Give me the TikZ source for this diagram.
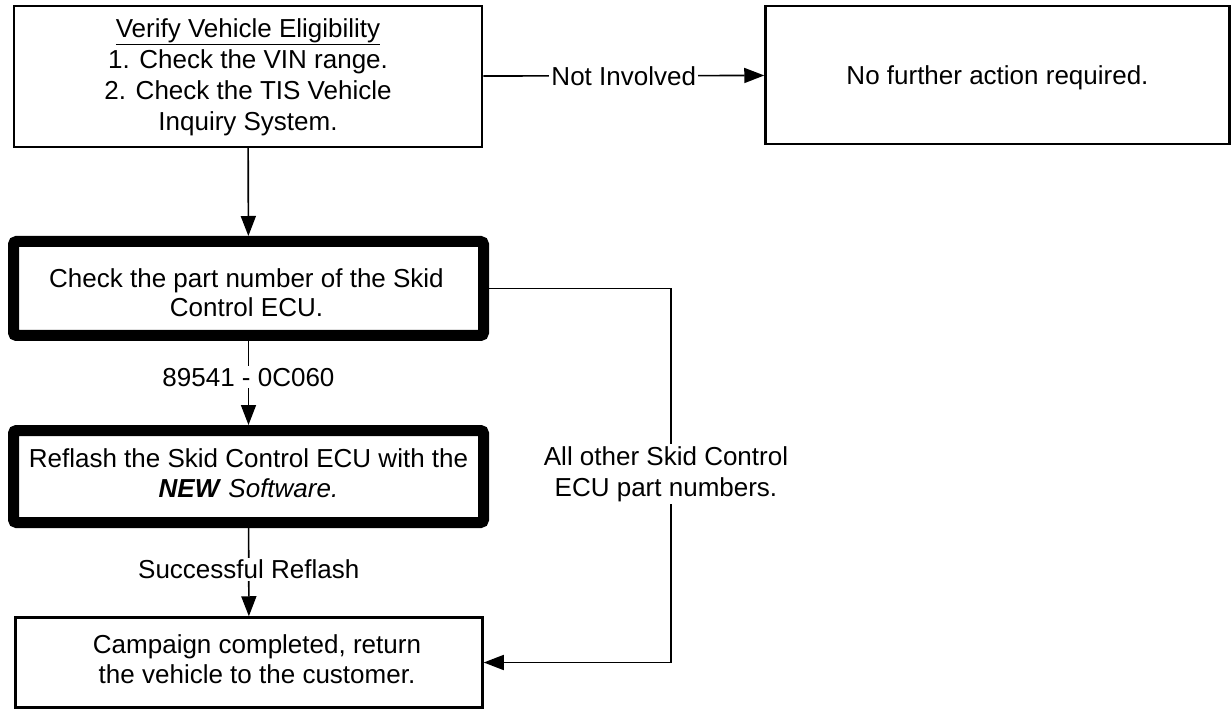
\documentclass[tikz,border=0pt]{standalone}
\usepackage{fontspec}
\setmainfont{Liberation Sans}
\usetikzlibrary{arrows.meta,calc}
\begin{document}
\begin{tikzpicture}[x=1pt,y=-1pt,
  every node/.style={font=\fontsize{26}{31}\selectfont},
  tbox/.style={draw, line width=2.5pt, inner sep=0pt},
  hbox/.style={draw, line width=11pt, rounded corners=3pt, inner sep=0pt},
  txt/.style={align=center, inner sep=0pt},
  arr/.style={line width=1.6pt, -{Triangle[length=20pt,width=15pt]}},
  lbl/.style={fill=white, inner sep=2pt, align=center}]
\useasboundingbox (0,0) rectangle (1232,711);
% boxes
\node[tbox, minimum width=468pt, minimum height=141pt] (b1) at (248,76.5) {};
\node[tbox, minimum width=464pt, minimum height=138pt] (b2) at (997.5,75) {};
\node[hbox, minimum width=470pt, minimum height=94pt] (b3) at (248.5,288.5) {};
\node[hbox, minimum width=470pt, minimum height=92pt] (b4) at (248.5,476.5) {};
\node[tbox, minimum width=467pt, minimum height=90pt] (b5) at (249,662.5) {};
% texts
\node[txt] (t1) at ($(b1)+(0,1)$)
  {\underline{Verify Vehicle Eligibility}\\1. Check the VIN range.\\2. Check the TIS Vehicle\\Inquiry System.};
\node[txt] (t2) at ($(b2)+(0,3)$) {No further action required.};
\node[txt, font=\fontsize{26}{29}\selectfont] (t3) at ($(b3)+(-2,4)$)
  {Check the part number of the Skid\\Control ECU.};
\node[txt, font=\fontsize{26}{30}\selectfont] (t4) at ($(b4)+(0,-3)$)
  {Reflash the Skid Control ECU with the\\\textbf{\textit{NEW}} \textit{Software.}};
\node[txt, font=\fontsize{26}{30}\selectfont] (t5) at ($(b5)+(8,-3)$)
  {Campaign completed, return\\the vehicle to the customer.};
% connectors
\draw[arr] (b1) -- node[lbl, pos=0.5] {Not Involved} (b2);
\draw[arr] (b1) -- (b3);
\draw[arr] (b3) -- node[lbl, pos=0.43] {89541 - 0C060} (b4);
\draw[arr] (b4) -- node[lbl, pos=0.47] {Successful Reflash} (b5);
\coordinate (cr) at (671,475);
\draw[arr] (b3.east) -| (cr) |- (b5.east);
\node[lbl] (lr) at (666,474) {All other Skid Control\\ECU part numbers.};
\end{tikzpicture}
\end{document}
